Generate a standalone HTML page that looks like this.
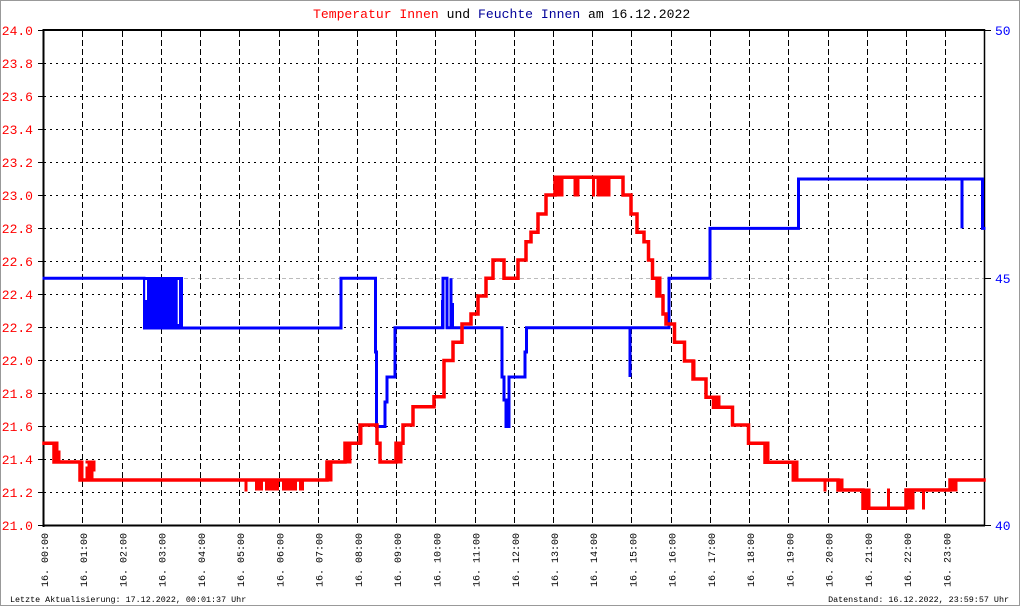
<!DOCTYPE html>
<html><head><meta charset="utf-8"><style>
html,body{margin:0;padding:0;background:#fff;}
svg{display:block;}
text{font-family:"Liberation Mono","DejaVu Sans Mono",monospace;}
</style></head><body>
<svg width="1020" height="606" viewBox="0 0 1020 606" xmlns="http://www.w3.org/2000/svg">
<rect x="0.5" y="0.5" width="1019" height="605" fill="#fff" stroke="#999" stroke-width="1"/>
<!-- title -->
<text x="313" y="18" font-size="13.1"><tspan fill="#ff0000">Temperatur Innen</tspan><tspan fill="#000"> und </tspan><tspan fill="#000099">Feuchte Innen</tspan><tspan fill="#000"> am 16.12.2022</tspan></text>
<!-- horizontal dotted grid -->
<g stroke="#000" stroke-width="1" stroke-dasharray="2,4">
<line x1="44" x2="984" y1="63.5" y2="63.5"/>
<line x1="44" x2="984" y1="96.5" y2="96.5"/>
<line x1="44" x2="984" y1="129.5" y2="129.5"/>
<line x1="44" x2="984" y1="162.5" y2="162.5"/>
<line x1="44" x2="984" y1="195.5" y2="195.5"/>
<line x1="44" x2="984" y1="228.5" y2="228.5"/>
<line x1="44" x2="984" y1="261.5" y2="261.5"/>
<line x1="44" x2="984" y1="294.5" y2="294.5"/>
<line x1="44" x2="984" y1="327.5" y2="327.5"/>
<line x1="44" x2="984" y1="360.5" y2="360.5"/>
<line x1="44" x2="984" y1="393.5" y2="393.5"/>
<line x1="44" x2="984" y1="426.5" y2="426.5"/>
<line x1="44" x2="984" y1="459.5" y2="459.5"/>
<line x1="44" x2="984" y1="492.5" y2="492.5"/>
</g>
<line x1="44" x2="984" y1="278.5" y2="278.5" stroke="#bbb" stroke-width="1" stroke-dasharray="4,3"/>
<!-- vertical dashed grid -->
<g stroke="#000" stroke-width="1" stroke-dasharray="6,3">
<line x1="82.5" x2="82.5" y1="31" y2="525"/>
<line x1="122.5" x2="122.5" y1="31" y2="525"/>
<line x1="161.5" x2="161.5" y1="31" y2="525"/>
<line x1="200.5" x2="200.5" y1="31" y2="525"/>
<line x1="239.5" x2="239.5" y1="31" y2="525"/>
<line x1="279.5" x2="279.5" y1="31" y2="525"/>
<line x1="318.5" x2="318.5" y1="31" y2="525"/>
<line x1="357.5" x2="357.5" y1="31" y2="525"/>
<line x1="396.5" x2="396.5" y1="31" y2="525"/>
<line x1="435.5" x2="435.5" y1="31" y2="525"/>
<line x1="475.5" x2="475.5" y1="31" y2="525"/>
<line x1="514.5" x2="514.5" y1="31" y2="525"/>
<line x1="553.5" x2="553.5" y1="31" y2="525"/>
<line x1="592.5" x2="592.5" y1="31" y2="525"/>
<line x1="631.5" x2="631.5" y1="31" y2="525"/>
<line x1="671.5" x2="671.5" y1="31" y2="525"/>
<line x1="710.5" x2="710.5" y1="31" y2="525"/>
<line x1="749.5" x2="749.5" y1="31" y2="525"/>
<line x1="788.5" x2="788.5" y1="31" y2="525"/>
<line x1="828.5" x2="828.5" y1="31" y2="525"/>
<line x1="867.5" x2="867.5" y1="31" y2="525"/>
<line x1="906.5" x2="906.5" y1="31" y2="525"/>
<line x1="945.5" x2="945.5" y1="31" y2="525"/>
</g>
<!-- axes -->
<g stroke="#000" stroke-width="2" fill="none">
<line x1="43.5" x2="43.5" y1="29" y2="527"/>
<line x1="43" x2="985" y1="30" y2="30"/>
<line x1="43" x2="985" y1="525.5" y2="525.5"/>
</g>
<line x1="984.5" x2="984.5" y1="29" y2="526" stroke="#000" stroke-width="1.5"/>
<g stroke="#000" stroke-width="1">
<line x1="38" x2="43" y1="30.5" y2="30.5"/>
<line x1="38" x2="43" y1="63.5" y2="63.5"/>
<line x1="38" x2="43" y1="96.5" y2="96.5"/>
<line x1="38" x2="43" y1="129.5" y2="129.5"/>
<line x1="38" x2="43" y1="162.5" y2="162.5"/>
<line x1="38" x2="43" y1="195.5" y2="195.5"/>
<line x1="38" x2="43" y1="228.5" y2="228.5"/>
<line x1="38" x2="43" y1="261.5" y2="261.5"/>
<line x1="38" x2="43" y1="294.5" y2="294.5"/>
<line x1="38" x2="43" y1="327.5" y2="327.5"/>
<line x1="38" x2="43" y1="360.5" y2="360.5"/>
<line x1="38" x2="43" y1="393.5" y2="393.5"/>
<line x1="38" x2="43" y1="426.5" y2="426.5"/>
<line x1="38" x2="43" y1="459.5" y2="459.5"/>
<line x1="38" x2="43" y1="492.5" y2="492.5"/>
<line x1="38" x2="43" y1="525.5" y2="525.5"/>
<line x1="985" x2="991" y1="30.5" y2="30.5"/>
<line x1="985" x2="991" y1="278.5" y2="278.5"/>
<line x1="985" x2="991" y1="525.5" y2="525.5"/>
</g>
<!-- left labels -->
<g fill="#ff0000" font-size="13" text-anchor="end">
<text x="33" y="35">24.0</text>
<text x="33" y="68">23.8</text>
<text x="33" y="101">23.6</text>
<text x="33" y="134">23.4</text>
<text x="33" y="167">23.2</text>
<text x="33" y="200">23.0</text>
<text x="33" y="233">22.8</text>
<text x="33" y="266">22.6</text>
<text x="33" y="299">22.4</text>
<text x="33" y="332">22.2</text>
<text x="33" y="365">22.0</text>
<text x="33" y="398">21.8</text>
<text x="33" y="431">21.6</text>
<text x="33" y="464">21.4</text>
<text x="33" y="497">21.2</text>
<text x="33" y="530">21.0</text>
</g>
<g fill="#0000ff" font-size="13">
<text x="995" y="35">50</text>
<text x="995" y="283">45</text>
<text x="995" y="530">40</text>
</g>
<!-- x labels -->
<g fill="#000" font-size="10">
<text transform="translate(48,587) rotate(-90)">16. 00:00</text>
<text transform="translate(87.2,587) rotate(-90)">16. 01:00</text>
<text transform="translate(126.5,587) rotate(-90)">16. 02:00</text>
<text transform="translate(165.7,587) rotate(-90)">16. 03:00</text>
<text transform="translate(204.9,587) rotate(-90)">16. 04:00</text>
<text transform="translate(244.2,587) rotate(-90)">16. 05:00</text>
<text transform="translate(283.4,587) rotate(-90)">16. 06:00</text>
<text transform="translate(322.6,587) rotate(-90)">16. 07:00</text>
<text transform="translate(361.8,587) rotate(-90)">16. 08:00</text>
<text transform="translate(401.1,587) rotate(-90)">16. 09:00</text>
<text transform="translate(440.3,587) rotate(-90)">16. 10:00</text>
<text transform="translate(479.5,587) rotate(-90)">16. 11:00</text>
<text transform="translate(518.8,587) rotate(-90)">16. 12:00</text>
<text transform="translate(558,587) rotate(-90)">16. 13:00</text>
<text transform="translate(597.2,587) rotate(-90)">16. 14:00</text>
<text transform="translate(636.5,587) rotate(-90)">16. 15:00</text>
<text transform="translate(675.7,587) rotate(-90)">16. 16:00</text>
<text transform="translate(714.9,587) rotate(-90)">16. 17:00</text>
<text transform="translate(754.1,587) rotate(-90)">16. 18:00</text>
<text transform="translate(793.4,587) rotate(-90)">16. 19:00</text>
<text transform="translate(832.6,587) rotate(-90)">16. 20:00</text>
<text transform="translate(871.8,587) rotate(-90)">16. 21:00</text>
<text transform="translate(911.1,587) rotate(-90)">16. 22:00</text>
<text transform="translate(950.3,587) rotate(-90)">16. 23:00</text>
</g>
<!-- footer -->
<text x="10" y="602" font-size="8.4" fill="#000">Letzte Aktualisierung: 17.12.2022, 00:01:37 Uhr</text>
<text x="1009" y="602" font-size="8.4" fill="#000" text-anchor="end">Datenstand: 16.12.2022, 23:59:57 Uhr</text>

<!-- humidity (blue) -->
<g fill="none" stroke="#0000ff" stroke-width="3" stroke-linejoin="miter" stroke-linecap="square">
<path d="M44,278.3 H144"/>
<path d="M182,328 H341 V278.3 H375.5 V352 H376.5 V426.5 H385 V402 H387 V377 H395 V327.8 H443 V278.3 H447 V327.8 H451 V278.3 V327.8 H502 V377 H504 V400 H506 V426.5 H509 V377 H525 V352 H526.5 V327.8 H630 V377 V327.8 H669 V278.3 H710 V228.4 H798.5 V179 H962 V228.4 V179 H982.5 V228.4 H984"/>
</g>
<g fill="#0000ff">
<rect x="143" y="277" width="40" height="52.5"/>
</g>
<g fill="#fff">
<rect x="145.2" y="280" width="1.8" height="20"/>
<rect x="177.7" y="280" width="1.3" height="44"/>
</g>
<path d="M442.5,300 V327 M452.5,303 V327" stroke="#0000ff" stroke-width="3" fill="none"/>

<!-- temperature (red) -->
<g fill="none" stroke="#ff0000" stroke-width="3.5" stroke-linejoin="miter" stroke-linecap="square">
<path d="M44,443.3 H54 V462 H80 V480 H327 V462 H345 V443.3 H360 V425 H377 V443.3 H380 V462 H396 V443.3 H403 V425 H413 V406.7 H434 V396.7 H444 V360.5 H453 V342.3 H462 V324 H471 V314 H478 V296 H486 V278.3 H493 V260 H504 V278.3 H518 V260 H526 V241.7 H531 V232.3 H538 V214 H546 V195 H555 V177.3 H623 V195 H631 V214 H637 V232.3 H644 V241.7 H648.5 V260 H652.5 V278.3 H657 V296 H663 V314 H666 V324 H674.5 V342.3 H684.5 V361 H693 V379 H706 V397.3 H713.5 V407.3 H732.5 V425 H748.5 V443.3 H765 V462.3 H793.3 V480 H838 V490 H863 V508.3 H906 V490 H950 V480 H984"/>
</g>
<g fill="none" stroke="#ff0000" stroke-width="3" stroke-linecap="square">
<path d="M57,443 V462 M59,452 V462 M82,462 V480 M87,468 V480 M89,462 V480 M92,462 V480 M94,462 V470 M87,462 H93"/>
<path d="M246,480 V490 M328,462 V480 M331,462 V480 M347,443 V462 M350,443 V462 M361,425 V443 M398,443 V462 M401,443 V462"/>
<path d="M557,177 V195 M560,177 V195 M562,177 V195 M575,177 V195 M578,177 V195 M593.5,177 V195 M598,177 V195 M601,177 V195 M604,177 V195 M607,177 V195 M609,177 V195"/>
<path d="M658,278 V296 M660,278 V296 M694,361 V379 M716,397 V407 M719,397 V407 M766,443 V462 M768,443 V462 M795,462 V480 M797,462 V480"/>
<path d="M825,480 V490 M840,480 V490 M842,480 V490 M864,490 V508 M866,490 V508 M869,490 V508 M888.5,490 V508 M907,490 V508 M910,490 V508 M913,490 V508 M923.5,490 V508 M951,480 V490 M954,480 V490 M956,480 V490"/>
</g>
<g fill="#ff0000">
<rect x="255" y="479" width="8" height="11.5"/>
<rect x="265" y="479" width="14" height="11.5"/>
<rect x="282" y="479" width="15" height="11.5"/>
<rect x="299" y="479" width="5" height="11.5"/>
</g>
</svg>
</body></html>
